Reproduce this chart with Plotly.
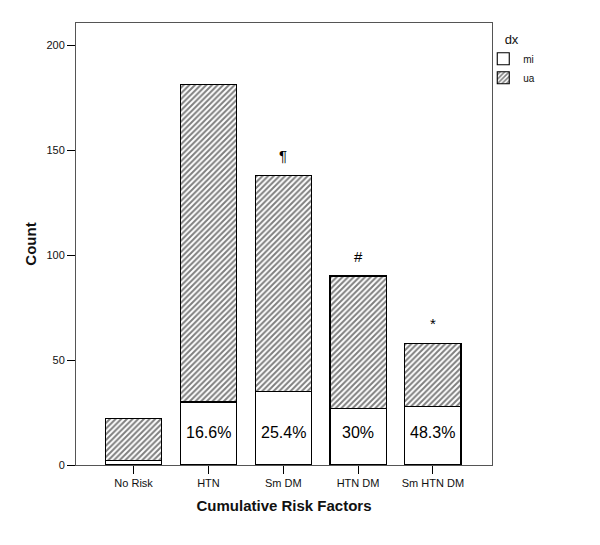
import plotly.graph_objects as go

categories = ["No Risk", "HTN", "Sm DM", "HTN DM", "Sm HTN DM"]
mi_counts = [2, 30, 35, 27, 28]
ua_counts = [20, 151, 103, 63, 30]
pct_labels = ["", "16.6%", "25.4%", "30%", "48.3%"]
sig_marks = ["", "", "¶", "#", "*"]
y_ticks = [0, 50, 100, 150, 200]

FONT = "Liberation Sans, Arial, sans-serif"

fig = go.Figure()
fig.add_trace(go.Bar(
    x=categories, y=mi_counts, name="mi", width=0.75,
    marker=dict(color="white", line=dict(color="black", width=1.1)),
))
fig.add_trace(go.Bar(
    x=categories, y=ua_counts, name="ua", width=0.75,
    marker=dict(color="white", line=dict(color="black", width=1.1),
                pattern=dict(shape="/", fgcolor="black", bgcolor="white",
                             size=4, solidity=0.5)),
))

for c, m, lab in zip(categories, mi_counts, pct_labels):
    if lab:
        fig.add_annotation(x=c, y=15.5, text=lab, showarrow=False,
                           font=dict(size=16, color="black", family=FONT))

for c, m, u, s in zip(categories, mi_counts, ua_counts, sig_marks):
    if s:
        fig.add_annotation(x=c, y=m + u, text=s, showarrow=False, yanchor="bottom",
                           yshift=9, font=dict(size=15, color="black", family=FONT))

fig.update_layout(
    width=600, height=545,
    barmode="stack",
    plot_bgcolor="white", paper_bgcolor="white",
    margin=dict(l=68, r=116, t=15, b=88, autoexpand=False),
    font=dict(family=FONT, size=11, color="#111"),
    showlegend=True,
    legend=dict(title=dict(text="dx", font=dict(size=13), side="top center"),
                x=0.979, y=0.99, bgcolor="rgba(0,0,0,0)",
                xanchor="left", yanchor="top", traceorder="normal",
                font=dict(size=10), itemwidth=30, tracegroupgap=0),
    xaxis=dict(
        range=[-0.77, 4.79], showline=True, linecolor="#555", linewidth=1,
        mirror=True, ticks="outside", ticklen=8, tickcolor="black",
        showgrid=False, zeroline=False, automargin=False,
        title=dict(text="<b>Cumulative Risk Factors</b>", font=dict(size=15), standoff=12),
    ),
    yaxis=dict(
        range=[0, 210.5], showline=True, linecolor="#555", linewidth=1,
        mirror=True, ticks="outside", ticklen=8, tickcolor="black",
        tickvals=y_ticks, showgrid=False, zeroline=False, automargin=False,
        title=dict(text="<b>Count</b>", font=dict(size=15), standoff=6),
    ),
)

fig.write_html("out.html")
